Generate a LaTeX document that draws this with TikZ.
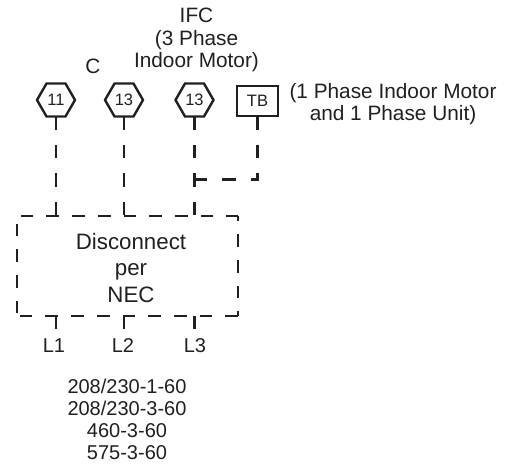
\documentclass[tikz,border=0pt]{standalone}
\usepackage{fontspec}
\setmainfont{Liberation Sans}
\usetikzlibrary{shapes.geometric}
\definecolor{ink}{HTML}{231F20}
\tikzset{
  hexnode/.style={draw=ink,line width=2.4pt,regular polygon,regular polygon sides=6,minimum size=38pt,inner sep=0pt,outer sep=0pt,text=ink,font=\fontsize{16.5}{18}\selectfont},
  tbnode/.style={draw=ink,line width=2.4pt,minimum width=41pt,minimum height=30pt,inner sep=0pt,outer sep=0pt,text=ink,font=\fontsize{16.5}{18}\selectfont},
  label/.style={text=ink,align=center,inner sep=0pt,font=\fontsize{20.8}{22.5}\selectfont},
  volts/.style={text=ink,align=center,inner sep=0pt,font=\fontsize{20}{22}\selectfont},
  boxnode/.style={minimum width=221pt,minimum height=100pt,inner sep=0pt,outer sep=0pt},
  boxtext/.style={text=ink,align=center,inner sep=0pt,font=\fontsize{22.3}{26.5}\selectfont},
  wire/.style={draw=ink,line width=2.2pt,dash pattern=on 13.5pt off 15pt},
  edge/.style={draw=ink,line width=2.2pt,dash pattern=on 12.7pt off 13pt},
  stub/.style={draw=ink,line width=2.2pt}
}
\begin{document}
\begin{tikzpicture}[x=1pt,y=-1pt]
\useasboundingbox[fill=white] (0,0) rectangle (511,469);
\node[hexnode] (h1) at (56,100) {11};
\node[hexnode] (h2) at (124,100) {13};
\node[hexnode] (h3) at (194.5,100) {13};
\node[tbnode] (tb) at (257.5,101) {TB};
\node[boxnode] (box) at (127.5,266) {};
\node[boxtext] (dis) at (131,268) {Disconnect\\per\\NEC};
\node[label] (ifc) at (196.5,40) {IFC\\(3 Phase\\Indoor Motor)};
\node[label] (c) at (93,66) {C};
\node[label] (one) at (393,104) {(1 Phase Indoor Motor\\and 1 Phase Unit)};
\node[volts] (l1) at (54,346) {L1};
\node[volts] (l2) at (123,346) {L2};
\node[volts] (l3) at (195,346) {L3};
\node[volts] (volt) at (127,419) {208/230-1-60\\208/230-3-60\\460-3-60\\575-3-60};
\coordinate (j) at (h3 |- 0,179.5);
\coordinate (tbc) at (tb |- j);
\coordinate (s1) at (h1 |- 0,329);
\coordinate (s2) at (h2 |- 0,329);
\coordinate (s3) at (h3 |- 0,329);
% box outline, drawn side by side so each dash lands as in the reference
\draw[edge] (box.south east) -- (box.south west);
\draw[edge,dash phase=23pt] (box.south west) -- (box.north west);
\draw[edge,dash phase=1pt] (box.north east) -- (box.north west);
\draw[edge,dash phase=8pt] (box.south east) -- (box.north east);
% connectors
\draw[wire] (h1.south) -- (h1 |- box.north);
\draw[wire] (h2.south) -- (h2 |- box.north);
\draw[wire] (h3.south) -- (h3 |- box.north);
\draw[wire] (tb.south) -- (tbc) -- (j);
\draw[stub] (h1 |- box.south) -- (s1);
\draw[stub] (h2 |- box.south) -- (s2);
\draw[stub] (h3 |- box.south) -- (s3);
\end{tikzpicture}
\end{document}
